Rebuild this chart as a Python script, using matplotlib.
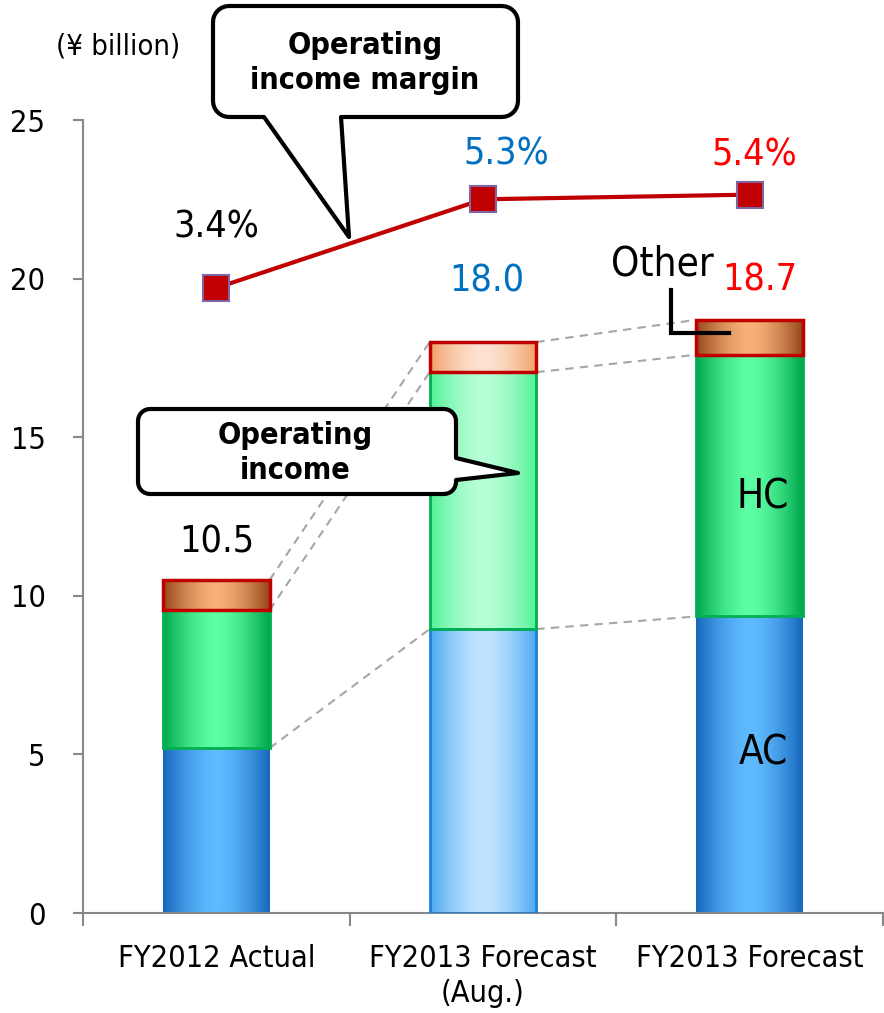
import numpy as np
import matplotlib.pyplot as plt
from matplotlib.colors import to_rgb
from matplotlib.patches import Polygon

# data (¥ billion)
categories = ['FY2012 Actual', 'FY2013 Forecast\n(Aug.)', 'FY2013 Forecast']
ac = [5.2, 8.95, 9.35]
hc = [4.35, 8.1, 8.25]
other = [0.95, 0.95, 1.1]
total_labels = ['10.5', '18.0', '18.7']
margin = [3.4, 5.3, 5.4]
margin_labels = ['3.4%', '5.3%', '5.4%']

label_colors = ['black', '#0070C0', '#FF0000']
W, H = 884, 1013

plt.rcParams['font.family'] = ['DejaVu Sans']
plt.rcParams['font.stretch'] = 'condensed'

fig = plt.figure(figsize=(W / 100, H / 100), dpi=100)
ax = fig.add_axes([83 / W, 100 / H, 800 / W, 793 / H])

x = np.arange(len(categories))
bw = 0.4

# gradient palettes (edge, middle) - normal vs the lighter Aug. forecast
pal_normal = {'ac': ('#1767BD', '#5FBBFF'), 'hc': ('#00A64C', '#5CFFA3'), 'ot': ('#95451A', '#F7B277')}
pal_light = {'ac': ('#4AA8F2', '#C2E5FF'), 'hc': ('#50F294', '#B8FFD7'), 'ot': ('#F1A166', '#FDE3D2')}


def grad_fill(rect, edge_c, mid_c):
    x0, y0 = rect.get_x(), rect.get_y()
    w, h = rect.get_width(), rect.get_height()
    t = np.linspace(-1, 1, 121)
    wgt = np.abs(t) ** 1.6
    e = np.array(to_rgb(edge_c))
    m = np.array(to_rgb(mid_c))
    img = m[None, :] * (1 - wgt[:, None]) + e[None, :] * wgt[:, None]
    im = ax.imshow(img[None, :, :], extent=(x0, x0 + w, y0, y0 + h), aspect='auto',
                   interpolation='bilinear', zorder=2)
    im.set_clip_path(rect)


bottoms_hc = np.array(ac)
bottoms_ot = np.array(ac) + np.array(hc)
tops = bottoms_ot + np.array(other)

for i in range(len(categories)):
    pal = pal_light if i == 1 else pal_normal
    r_ac = ax.bar(x[i], ac[i], bw, facecolor='none',
                  edgecolor='#1F80D8' if i == 1 else 'none', lw=2, zorder=3)[0]
    r_hc = ax.bar(x[i], hc[i], bw, bottom=bottoms_hc[i], facecolor='none',
                  edgecolor='#00B050', lw=2, zorder=3)[0]
    r_ot = ax.bar(x[i], other[i], bw, bottom=bottoms_ot[i], facecolor='none',
                  edgecolor='#C00000', lw=2.5, zorder=4)[0]
    grad_fill(r_ac, *pal['ac'])
    grad_fill(r_hc, *pal['hc'])
    grad_fill(r_ot, *pal['ot'])

# dashed connectors between bars
for lvl in [bottoms_hc, bottoms_ot, tops]:
    for i in range(len(categories) - 1):
        ax.plot([x[i] + bw / 2, x[i + 1] - bw / 2], [lvl[i], lvl[i + 1]],
                ls=(0, (4, 3)), color='#A6A6A6', lw=1.5, zorder=1)

# total labels
tot_off = [(0, 37), (4, 61), (10, 39)]
for i in range(len(categories)):
    ax.annotate(total_labels[i], (x[i], tops[i]), xytext=tot_off[i], textcoords='offset pixels',
                ha='center', va='center', fontsize=27, color=label_colors[i], zorder=6)

ax.text(2.05, 13.1, 'HC', fontsize=29, ha='center', va='center', zorder=6)
ax.text(2.05, 5.04, 'AC', fontsize=29, ha='center', va='center', zorder=6)
ax.text(1.672, 20.43, 'Other', fontsize=29, ha='center', va='center', zorder=6)
ax.plot([1.706, 1.706, 1.923], [19.64, 18.28, 18.28], color='black', lw=3,
        solid_joinstyle='miter', zorder=6)

ax.set_xlim(-0.5, 2.5)
ax.set_ylim(0, 25)
ax.set_yticks(range(0, 26, 5))
ax.set_xticks(x)
ax.set_xticklabels(categories, fontsize=22, linespacing=1.3)
ax.set_xticks([-0.5, 0.5, 1.5, 2.5], minor=True)
ax.tick_params(axis='x', which='major', length=0, pad=22)
ax.tick_params(axis='x', which='minor', length=9, width=1.5, color='#888888')
ax.tick_params(axis='y', length=7, width=1.5, color='#888888', labelsize=22, pad=20)
for s in ['top', 'right']:
    ax.spines[s].set_visible(False)
for s in ['left', 'bottom']:
    ax.spines[s].set_color('#888888')
    ax.spines[s].set_linewidth(1.5)

fig.text(118 / W, 1 - 47 / H, '(¥ billion)', fontsize=21, ha='center', va='center')

# margin line on hidden secondary axis
ax2 = ax.twinx()
ax2.set_ylim(-10, 7)
ax2.axis('off')
ax2.plot(x, margin, color='#C00000', lw=3, marker='s', markersize=19,
         markerfacecolor='#C00000', markeredgecolor='#8064A2', markeredgewidth=1.5, zorder=5)
m_off = [(0, 60), (23, 45), (5, 39)]
for i in range(len(categories)):
    ax2.annotate(margin_labels[i], (x[i], margin[i]), xytext=m_off[i], textcoords='offset pixels',
                 ha='center', va='center', fontsize=27, color=label_colors[i])

# callouts drawn in figure pixel space
ov = fig.add_axes([0, 0, 1, 1], zorder=10)
ov.set_xlim(0, W)
ov.set_ylim(H, 0)
ov.axis('off')
ov.patch.set_alpha(0)


def callout(x0, y0, x1, y1, r, bottom_tail=None, right_tail=None):
    def arc(cx, cy, a0, a1):
        a = np.radians(np.linspace(a0, a1, 8))
        return list(zip(cx + r * np.cos(a), cy + r * np.sin(a)))
    pts = arc(x0 + r, y0 + r, 180, 270)
    pts += arc(x1 - r, y0 + r, 270, 360)
    if right_tail:
        pts += right_tail
    pts += arc(x1 - r, y1 - r, 0, 90)
    if bottom_tail:
        pts += bottom_tail
    pts += arc(x0 + r, y1 - r, 90, 180)
    ov.add_patch(Polygon(pts, closed=True, facecolor='white', edgecolor='black',
                         lw=3, joinstyle='round'))


callout(213, 6, 518, 117, 16, bottom_tail=[(341, 117), (349, 237), (264, 117)])
ov.text(365, 63, 'Operating\nincome margin', fontsize=22, fontweight='bold',
        ha='center', va='center', linespacing=1.3)
callout(138, 409, 456, 494, 12, right_tail=[(456, 458), (518, 473), (456, 480)])
ov.text(295, 453, 'Operating\nincome', fontsize=22, fontweight='bold',
        ha='center', va='center', linespacing=1.3)

fig.savefig('out.png', dpi=100)
